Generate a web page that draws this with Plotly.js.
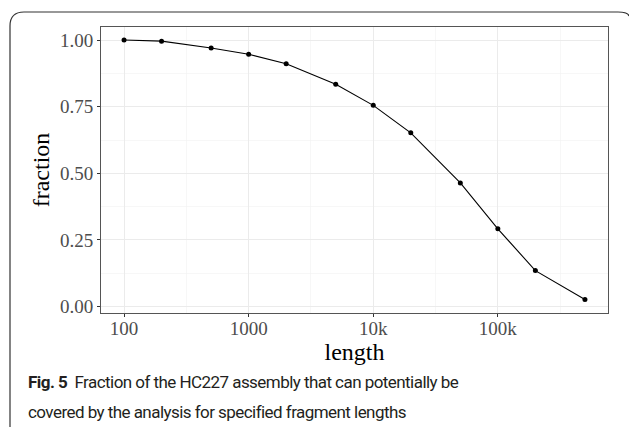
<!DOCTYPE html>
<html>
<head>
<meta charset="utf-8">
<script src="https://cdn.plot.ly/plotly-3.0.1.min.js"></script>
<style>
html,body{margin:0;padding:0;background:#fff;}
#chart{width:629px;height:427px;}
</style>
</head>
<body>
<div id="chart"></div>
<script>
// Data
var lengths = [100, 200, 500, 1000, 2000, 5000, 10000, 20000, 50000, 100000, 200000, 500000];
var fractions = [1.000, 0.996, 0.970, 0.947, 0.911, 0.834, 0.755, 0.652, 0.464, 0.292, 0.135, 0.027];
var xTickVals = [100, 1000, 10000, 100000];
var xTickText = ["100", "1000", "10k", "100k"];
var xMinorVals = [316.23, 3162.3, 31623, 316228];
var yTickVals = [0, 0.25, 0.5, 0.75, 1.0];
var yTickText = ["0.00", "0.25", "0.50", "0.75", "1.00"];
var yMinorVals = [0.125, 0.375, 0.625, 0.875];
var captionBold = "Fig. 5";
var captionLine1 = "Fraction of the HC227 assembly that can potentially be";
var captionLine2 = "covered by the analysis for specified fragment lengths";

var W = 629, H = 427;
var L = 101, R = 21, T = 27, B = 114;
var pw = W - L - R, ph = H - T - B;
function px(x){ return (x - L) / pw; }
function py(y){ return (H - B - y) / ph; }

var border = 'M ' + px(10) + ' ' + py(430) +
  ' L ' + px(10) + ' ' + py(26) +
  ' Q ' + px(10) + ' ' + py(12) + ' ' + px(24) + ' ' + py(12) +
  ' L ' + px(618) + ' ' + py(12) +
  ' Q ' + px(628) + ' ' + py(12) + ' ' + px(629) + ' ' + py(16);

var trace = {
  x: lengths, y: fractions, type: 'scatter', mode: 'lines+markers',
  line: {color: '#000', width: 1.1},
  marker: {color: '#000', size: 5},
  hoverinfo: 'x+y'
};

var serif = '"Liberation Serif", "DejaVu Serif", serif';
var capFont = 'Roboto, "Noto Sans", sans-serif';
var sp = '<span style="letter-spacing:-0.55px">';
var layout = {
  width: W, height: H,
  margin: {l: L, r: R, t: T, b: B},
  paper_bgcolor: '#fff', plot_bgcolor: '#fff',
  showlegend: false,
  xaxis: {
    type: 'log',
    range: [1.815, 5.884],
    tickmode: 'array', tickvals: xTickVals, ticktext: xTickText,
    ticks: 'outside', ticklen: 3, tickcolor: '#333', tickwidth: 1,
    ticklabelstandoff: -5,
    tickfont: {family: serif, size: 19, color: '#4d4d4d'},
    showgrid: true, gridcolor: '#ebebeb', gridwidth: 1,
    minor: {tickmode: 'array', tickvals: xMinorVals, showgrid: true, gridcolor: '#f2f2f2', gridwidth: 0.6, ticks: ''},
    showline: true, linecolor: '#555', linewidth: 1, mirror: true,
    zeroline: false,
    title: {text: 'length', font: {family: serif, size: 24, color: '#000'}, standoff: 2}
  },
  yaxis: {
    range: [-0.024, 1.049],
    tickmode: 'array', tickvals: yTickVals, ticktext: yTickText,
    ticks: 'outside', ticklen: 3, tickcolor: '#333', tickwidth: 1,
    tickfont: {family: serif, size: 19, color: '#4d4d4d'},
    showgrid: true, gridcolor: '#ebebeb', gridwidth: 1,
    minor: {tickmode: 'array', tickvals: yMinorVals, showgrid: true, gridcolor: '#f2f2f2', gridwidth: 0.6, ticks: ''},
    showline: true, linecolor: '#555', linewidth: 1, mirror: true,
    zeroline: false,
    title: {text: 'fraction', font: {family: serif, size: 24, color: '#000'}, standoff: 3}
  },
  shapes: [{
    type: 'path', xref: 'paper', yref: 'paper', path: border,
    line: {color: '#333', width: 1.2}, layer: 'below'
  }],
  annotations: [
    {xref: 'paper', yref: 'paper', x: px(26), y: py(382), xanchor: 'left', yanchor: 'middle',
     showarrow: false, align: 'left',
     text: sp + '<b>' + captionBold + '</b>  ' + captionLine1 + '</span>',
     font: {family: capFont, size: 17, color: '#231f20'}},
    {xref: 'paper', yref: 'paper', x: px(26), y: py(412), xanchor: 'left', yanchor: 'middle',
     showarrow: false, align: 'left',
     text: sp + captionLine2 + '</span>',
     font: {family: capFont, size: 17, color: '#231f20'}}
  ]
};

Plotly.newPlot('chart', [trace], layout, {displayModeBar: false, staticPlot: true});
</script>
</body>
</html>
